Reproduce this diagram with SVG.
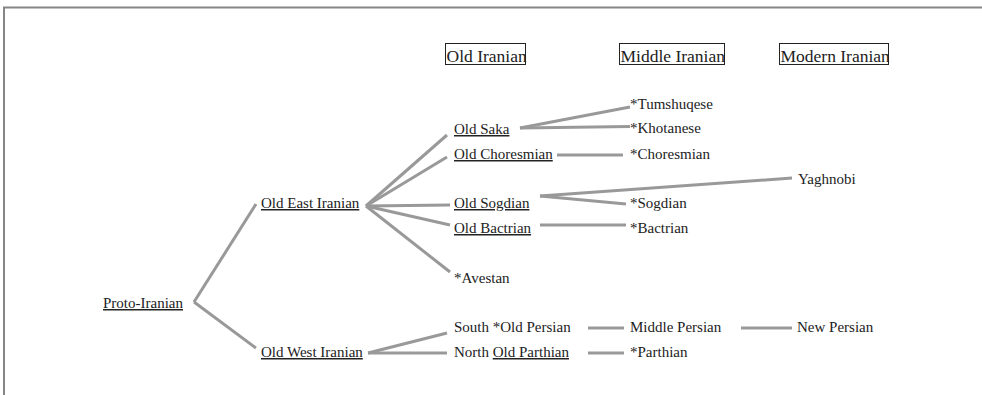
<svg xmlns="http://www.w3.org/2000/svg" width="982" height="395" viewBox="0 0 982 395" font-family="Liberation Serif, Times New Roman, serif">
<style>
text{font-family:'Liberation Serif','Times New Roman',serif;font-size:15px;fill:#222}
.h{font-size:17.5px}
.u{text-decoration:underline}
.c line{stroke:#999;stroke-width:3;stroke-linecap:butt}
.box{fill:none;stroke:#222;stroke-width:1}
</style>
<rect width="982" height="395" fill="#fff"/>
<path d="M4,395 V7.5 H982" fill="none" stroke="#858585" stroke-width="2"/>
<g id="headers">
<g id="h-old"><rect class="box" x="445.5" y="43.5" width="80" height="21"/><text class="h" x="446.5" y="62">Old Iranian</text></g>
<g id="h-middle"><rect class="box" x="619.5" y="43.5" width="105" height="21"/><text class="h" x="620.5" y="62">Middle Iranian</text></g>
<g id="h-modern"><rect class="box" x="779.5" y="43.5" width="109" height="21"/><text class="h" x="780.5" y="62">Modern Iranian</text></g>
</g>
<g class="c" id="connectors">
<line x1="194" y1="302" x2="256" y2="204"/>
<line x1="194" y1="302" x2="256" y2="348"/>
<line x1="366" y1="206" x2="447" y2="135"/>
<line x1="366" y1="206" x2="447" y2="157"/>
<line x1="366" y1="206" x2="450" y2="205"/>
<line x1="366" y1="206" x2="450" y2="225"/>
<line x1="366" y1="206" x2="450" y2="272"/>
<line x1="368" y1="353" x2="447" y2="333"/>
<line x1="368" y1="353" x2="447" y2="353"/>
<line x1="520" y1="128" x2="630" y2="107"/>
<line x1="520" y1="128" x2="630" y2="126.5"/>
<line x1="557" y1="155" x2="623" y2="155"/>
<line x1="540" y1="196" x2="792" y2="178"/>
<line x1="540" y1="196" x2="626" y2="204"/>
<line x1="540" y1="225" x2="626" y2="225"/>
<line x1="588" y1="328" x2="624" y2="328"/>
<line x1="741" y1="328" x2="792" y2="328"/>
<line x1="588" y1="353" x2="624" y2="353"/>
</g>
<g id="proto-iranian"><text class="u" x="103" y="308">Proto-Iranian</text></g>
<g id="old-east-iranian"><text class="u" x="261" y="208">Old East Iranian</text></g>
<g id="old-west-iranian"><text class="u" x="261" y="357">Old West Iranian</text></g>
<g id="old-saka"><text class="u" x="454" y="134">Old Saka</text></g>
<g id="old-choresmian"><text class="u" x="454" y="159">Old Choresmian</text></g>
<g id="old-sogdian"><text class="u" x="454" y="208">Old Sogdian</text></g>
<g id="old-bactrian"><text class="u" x="454" y="233">Old Bactrian</text></g>
<g id="avestan"><text x="454" y="283">*Avestan</text></g>
<g id="old-persian"><text x="454" y="332">South *Old Persian</text></g>
<g id="old-parthian"><text x="454" y="357">North <tspan class="u">Old Parthian</tspan></text></g>
<g id="tumshuqese"><text x="630" y="109">*Tumshuqese</text></g>
<g id="khotanese"><text x="630" y="133">*Khotanese</text></g>
<g id="choresmian"><text x="630" y="159">*Choresmian</text></g>
<g id="yaghnobi"><text x="798" y="184">Yaghnobi</text></g>
<g id="sogdian"><text x="630" y="208">*Sogdian</text></g>
<g id="bactrian"><text x="630" y="233">*Bactrian</text></g>
<g id="middle-persian"><text x="630" y="332">Middle Persian</text></g>
<g id="parthian"><text x="630" y="357">*Parthian</text></g>
<g id="new-persian"><text x="797" y="332">New Persian</text></g>
</svg>
